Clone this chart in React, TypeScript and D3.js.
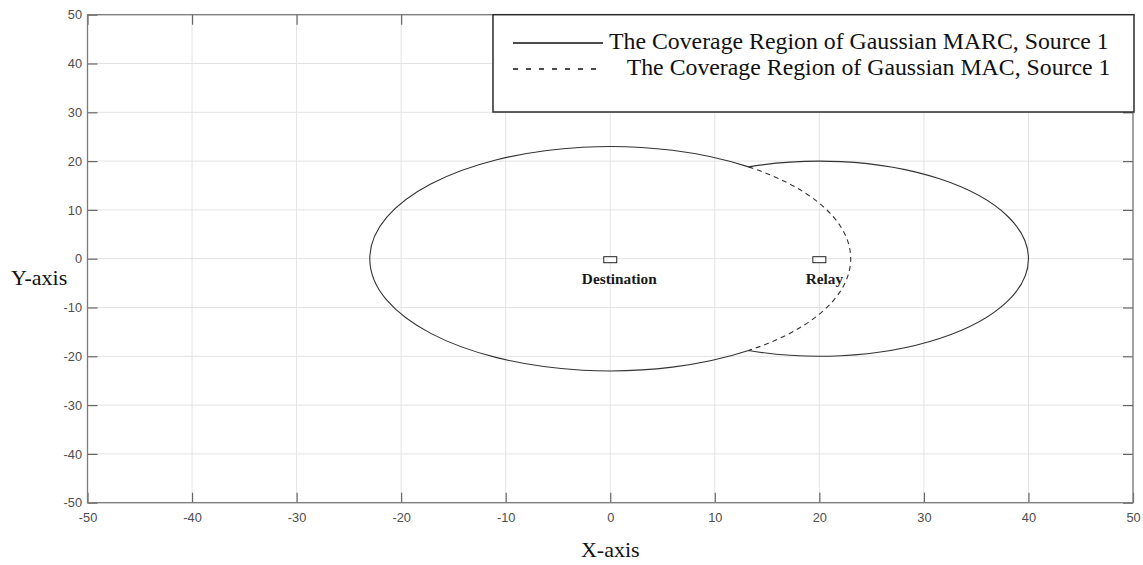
import * as d3 from "d3";
import React from "react";

// coverage circles (centre x, centre y, radius)
const marcCircle = { cx: 0, cy: 0, r: 23 };
const relayCircle = { cx: 20, cy: 0, r: 20 };

const nodeNames = ["Destination", "Relay"];
const nodeX = [0, 20];
const nodeY = [0, 0];

const xTicks = d3.range(-50, 51, 10);
const yTicks = d3.range(-50, 51, 10);

const legendLabels = [
	"The Coverage Region of Gaussian MARC, Source 1",
	"The Coverage Region of Gaussian MAC, Source 1",
];

const W = 1143;
const H = 565;

export default function App() {
	const svgRef = React.useRef<SVGSVGElement>(null);

	React.useEffect(() => {
		document.body.style.margin = "0";
		if (!svgRef.current) return;

		const margins = { top: 14.7, right: 10, bottom: 62.3, left: 87.5 };
		const x = d3.scaleLinear().domain([-50, 50]).range([margins.left, W - margins.right]);
		const y = d3.scaleLinear().domain([-50, 50]).range([H - margins.bottom, margins.top]);

		const svg = d3.select(svgRef.current);
		svg.selectAll("*").remove();

		// grid
		const grid = svg.append("g").attr("stroke", "#e3e3e3").attr("stroke-width", 1);
		xTicks.forEach((t) => {
			grid.append("line").attr("x1", x(t)).attr("x2", x(t)).attr("y1", y(-50)).attr("y2", y(50));
		});
		yTicks.forEach((t) => {
			grid.append("line").attr("y1", y(t)).attr("y2", y(t)).attr("x1", x(-50)).attr("x2", x(50));
		});

		// axes, ticks pointing inwards; plain hyphen minus like MATLAB
		const fmt = (d: d3.NumberValue) => String(d);
		const styleAxis = (g: d3.Selection<SVGGElement, unknown, null, undefined>) => {
			g.select(".domain").remove();
			g.selectAll(".tick line").attr("stroke", "#666").attr("stroke-width", 1.2);
			g.selectAll(".tick text")
				.attr("fill", "#4d4d4d")
				.attr("font-family", "Liberation Sans, Arial, sans-serif")
				.attr("font-size", 12.8);
		};
		svg.append("g")
			.attr("transform", `translate(0,${y(-50)})`)
			.call(d3.axisBottom(x).tickValues(xTicks).tickFormat(fmt).tickSizeInner(-10).tickSizeOuter(0).tickPadding(10))
			.call(styleAxis);
		svg.append("g")
			.attr("transform", `translate(${x(-50)},0)`)
			.call(d3.axisLeft(y).tickValues(yTicks).tickFormat(fmt).tickSizeInner(-10).tickSizeOuter(0).tickPadding(5.5))
			.call(styleAxis);
		svg.append("g")
			.attr("transform", `translate(0,${y(50)})`)
			.call(d3.axisTop(x).tickValues(xTicks).tickSizeInner(-10).tickSizeOuter(0).tickFormat(() => ""))
			.call(styleAxis);
		svg.append("g")
			.attr("transform", `translate(${x(50)},0)`)
			.call(d3.axisRight(y).tickValues(yTicks).tickSizeInner(-10).tickSizeOuter(0).tickFormat(() => ""))
			.call(styleAxis);

		svg.append("rect")
			.attr("x", x(-50))
			.attr("y", y(50))
			.attr("width", x(50) - x(-50))
			.attr("height", y(-50) - y(50))
			.attr("fill", "none")
			.attr("stroke", "#7a7a7a")
			.attr("stroke-width", 1.3);

		// intersection of the two circles
		const a = marcCircle;
		const b = relayCircle;
		const ix = (a.r * a.r - b.r * b.r + b.cx * b.cx - a.cx * a.cx) / (2 * (b.cx - a.cx));
		const iy = Math.sqrt(a.r * a.r - (ix - a.cx) ** 2);
		const rx = (c: typeof a) => x(c.r) - x(0);
		const ry = (c: typeof a) => y(0) - y(c.r);

		const solid =
			`M${x(ix)},${y(iy)}` +
			`A${rx(a)},${ry(a)} 0 1 0 ${x(ix)},${y(-iy)}` +
			`A${rx(b)},${ry(b)} 0 1 0 ${x(ix)},${y(iy)}`;
		const dashed = `M${x(ix)},${y(iy)}A${rx(a)},${ry(a)} 0 0 1 ${x(ix)},${y(-iy)}`;

		svg.append("path").attr("d", solid).attr("fill", "none").attr("stroke", "#333").attr("stroke-width", 1.1);
		svg.append("path")
			.attr("d", dashed)
			.attr("fill", "none")
			.attr("stroke", "#333")
			.attr("stroke-width", 1.1)
			.attr("stroke-dasharray", "5,4");

		// nodes
		const labelDx = [9, 5];
		nodeNames.forEach((name, i) => {
			svg.append("rect")
				.attr("x", x(nodeX[i]) - 6.5)
				.attr("y", y(nodeY[i]) - 2)
				.attr("width", 13)
				.attr("height", 6)
				.attr("fill", "white")
				.attr("stroke", "#222")
				.attr("stroke-width", 1);
			svg.append("text")
				.attr("x", x(nodeX[i]) + labelDx[i])
				.attr("y", y(nodeY[i]) + 25)
				.attr("text-anchor", "middle")
				.attr("font-family", "Liberation Serif, Times New Roman, serif")
				.attr("font-weight", "bold")
				.attr("font-size", 15.3)
				.attr("fill", "#1a1a1a")
				.text(name);
		});

		// legend
		const lg = svg.append("g");
		lg.append("rect")
			.attr("x", 493)
			.attr("y", y(50))
			.attr("width", 641)
			.attr("height", 97.3)
			.attr("fill", "white")
			.attr("stroke", "#2b2b2b")
			.attr("stroke-width", 1.5);
		const rows = [
			{ ly: 43, ty: 48.5, tx: 609, dash: null },
			{ ly: 69, ty: 74.5, tx: 626.7, dash: "5,8" },
		];
		legendLabels.forEach((label, i) => {
			const r = rows[i];
			lg.append("line")
				.attr("x1", 513)
				.attr("x2", 603)
				.attr("y1", r.ly)
				.attr("y2", r.ly)
				.attr("stroke", "#111")
				.attr("stroke-width", 1.6)
				.attr("stroke-dasharray", r.dash);
			lg.append("text")
				.attr("x", r.tx)
				.attr("y", r.ty)
				.attr("font-family", "Liberation Serif, Times New Roman, serif")
				.attr("font-size", 23.8)
				.attr("fill", "#111")
				.text(label);
		});

		// axis titles
		svg.append("text")
			.attr("x", 11)
			.attr("y", 285)
			.attr("font-family", "Liberation Serif, Times New Roman, serif")
			.attr("font-size", 22)
			.attr("fill", "#111")
			.text("Y-axis");
		svg.append("text")
			.attr("x", x(0))
			.attr("y", 557)
			.attr("text-anchor", "middle")
			.attr("font-family", "Liberation Serif, Times New Roman, serif")
			.attr("font-size", 22)
			.attr("fill", "#111")
			.text("X-axis");
	}, []);

	return <svg ref={svgRef} width={W} height={H} style={{ display: "block", background: "white" }} />;
}
